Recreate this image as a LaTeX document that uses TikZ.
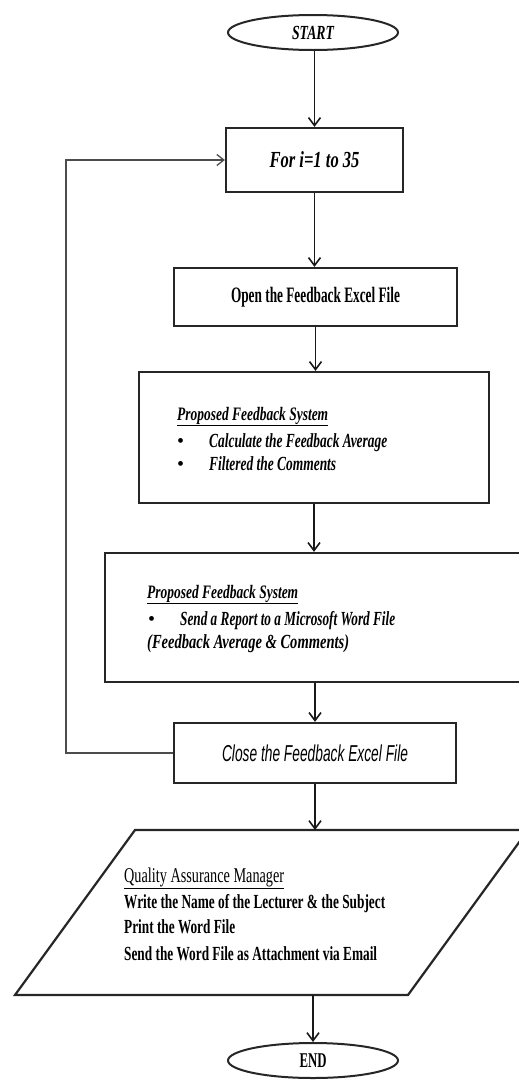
\documentclass[tikz,border=0pt]{standalone}
\usepackage{fontspec}
\setmainfont{Liberation Serif}
\newfontfamily\arialf{Liberation Sans}
\usetikzlibrary{shapes.geometric,arrows.meta}
% squeeze a line of text to a given width, keeping its height
\newcommand\sq[2]{\resizebox{#1pt}{\height}{#2}}
\newcommand\fs[1]{\fontsize{#1}{#1}\selectfont}

\begin{document}
\begin{tikzpicture}[x=1pt,y=-1pt,
  box/.style={draw=black!85, line width=2.2pt, rectangle, inner sep=0pt},
  term/.style={draw=black!85, ellipse, line width=2pt, minimum width=170pt,
               minimum height=35pt, inner sep=0pt},
  tip/.style={-{Straight Barb[length=8pt,width=12pt,line width=1.6pt]}},
  arr/.style={line width=1.6pt, draw=black!90, tip},
  back/.style={line width=1.3pt, draw=black!70,
               -{Straight Barb[length=7pt,width=11pt,line width=1.3pt]}},
  txt/.style={anchor=base west, inner sep=0pt},
]
\useasboundingbox (0,0) rectangle (519,1082);
\clip (0,0) rectangle (519,1082);

% terminals
\node[term] (start) at (313,32.5) {\fs{20}\bfseries\itshape\sq{42}{START}};
\node[term] (end)   at (313,1060.5) {\fs{21}\bfseries\sq{27}{END}};

% loop head
\node[box, minimum width=177pt, minimum height=64pt] (for) at (314.5,160)
  {\fs{23}\bfseries\itshape\sq{90}{For i=1 to 35}};

% open the workbook
\node[box, minimum width=283pt, minimum height=58pt] (open) at (315.5,297)
  {\fs{22}\bfseries\sq{169}{Open the Feedback Excel File}};

% feedback processing
\node[box, minimum width=350pt, minimum height=131pt] (calc) at (314,437.5) {};
\node[txt] (calch) at (177,420)
  {\fs{19}\bfseries\itshape\sq{151}{\underline{Proposed Feedback System}}};
\node[txt] (calcb1) at (177,447) {\fs{20}\textbullet};
\node[txt] (calcb2) at (177,470) {\fs{20}\textbullet};
\node[txt] (calc1) at (209,447)
  {\fs{20}\bfseries\itshape\sq{178}{Calculate the Feedback Average}};
\node[txt] (calc2) at (209,470)
  {\fs{20}\bfseries\itshape\sq{127}{Filtered the Comments}};

% report to Word
\node[box, minimum width=425pt, minimum height=129pt] (rep) at (317.5,617.5) {};
\node[txt] (reph) at (147,598)
  {\fs{19}\bfseries\itshape\sq{151}{\underline{Proposed Feedback System}}};
\node[txt] (repb) at (148,625) {\fs{20}\textbullet};
\node[txt] (rep1) at (180,625)
  {\fs{20}\bfseries\itshape\sq{215}{Send a Report to a Microsoft Word File}};
\node[txt] (rep2) at (147,648)
  {\fs{20}\bfseries\itshape\sq{202}{(Feedback Average \& Comments)}};

% close the workbook
\node[box, minimum width=282pt, minimum height=60pt] (close) at (315,753)
  {\arialf\fs{23}\itshape\sq{186}{Close the Feedback Excel File}};

% quality assurance step (parallelogram)
\coordinate (qtl) at (135,830);
\coordinate (qtr) at (528,830);
\coordinate (qbr) at (408,995);
\coordinate (qbl) at (15,995);
\coordinate (qtop) at (315,830);
\coordinate (qbot) at (313,995);
\draw[draw=black!85, line width=2.2pt, line join=miter]
  (qtl) -- (qtr) -- (qbr) -- (qbl) -- cycle;
\node[txt] (qah) at (124,882)
  {\fs{21}\sq{160}{\underline{Quality Assurance Manager}}};
\node[txt] (qa1) at (124,908)
  {\fs{20}\bfseries\sq{261}{Write the Name of the Lecturer \& the Subject}};
\node[txt] (qa2) at (124,933)
  {\fs{20}\bfseries\sq{111}{Print the Word File}};
\node[txt] (qa3) at (124,960)
  {\fs{20}\bfseries\sq{253}{Send the Word File as Attachment via Email}};

% flow
\draw[arr] (for.north |- start.south) -- (for.north);
\draw[arr] (for.south) -- (for.south |- open.north);
\draw[arr] (open.south) -- (open.south |- calc.north);
\draw[arr] (calc.south) -- (calc.south |- rep.north);
\draw[arr] (close.north |- rep.south) -- (close.north);
\draw[arr] (close.south) -- (qtop);
\draw[arr] (qbot) -- (end.north);

% back to the loop head
\draw[back] (close.west) -- ++(-107,0) |- (for.west);
\end{tikzpicture}
\end{document}
